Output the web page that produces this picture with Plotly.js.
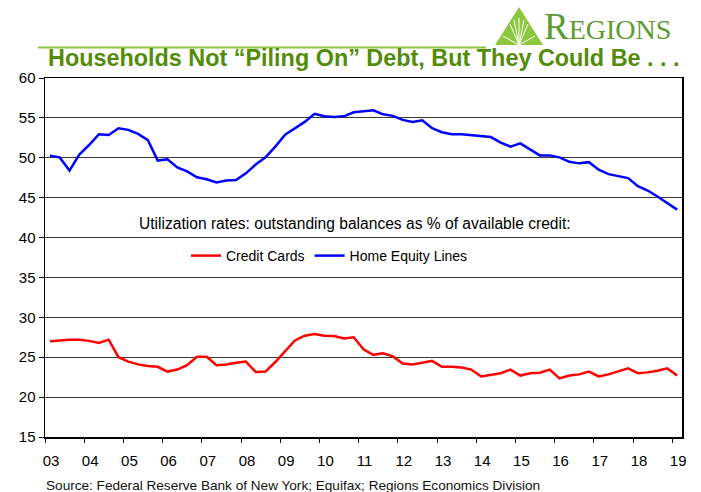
<!DOCTYPE html>
<html><head><meta charset="utf-8">
<script src="https://cdn.plot.ly/plotly-3.0.1.min.js"></script>
<style>html,body{margin:0;padding:0;background:#fff}#chart{width:701px;height:492px}</style>
</head><body><div id="chart"></div>
<script>
// Quarterly data, 2003Q1 .. 2019Q1 (65 quarters)
const startYear = 2003;
const creditCards = [27.0, 27.1, 27.2, 27.2, 27.05, 26.8, 27.2, 25.0, 24.45, 24.1, 23.9, 23.8, 23.2, 23.45, 24.0, 25.05,
  25.05, 24.0, 24.1, 24.3, 24.45, 23.15, 23.2, 24.4, 25.7, 27.1, 27.7, 27.9, 27.7, 27.65, 27.35, 27.5,
  26.0, 25.3, 25.5, 25.1, 24.2, 24.1, 24.3, 24.55, 23.8, 23.8, 23.7, 23.45, 22.6, 22.8, 23.0, 23.45,
  22.7, 23.0, 23.05, 23.45, 22.35, 22.7, 22.85, 23.2, 22.6, 22.85, 23.2, 23.6, 23.0, 23.1, 23.3, 23.6, 22.7];
const homeEquity = [50.25, 50.05, 48.4, 50.4, 51.6, 52.95, 52.85, 53.7, 53.5, 53.0, 52.2, 49.65, 49.8, 48.8, 48.3, 47.55,
  47.3, 46.9, 47.15, 47.2, 48.05, 49.15, 50.05, 51.4, 52.9, 53.7, 54.5, 55.5, 55.2, 55.1, 55.2, 55.7,
  55.8, 55.95, 55.45, 55.25, 54.75, 54.5, 54.7, 53.7, 53.2, 52.95, 52.95, 52.85, 52.7, 52.6, 51.9, 51.4,
  51.8, 51.0, 50.3, 50.3, 50.05, 49.5, 49.3, 49.45, 48.5, 47.95, 47.7, 47.45, 46.45, 45.9, 45.15, 44.3, 43.5];
const yearTicks = [2003,2004,2005,2006,2007,2008,2009,2010,2011,2012,2013,2014,2015,2016,2017,2018,2019];
const yearLabels = ['03','04','05','06','07','08','09','10','11','12','13','14','15','16','17','18','19'];
const seriesNames = ['Credit Cards', 'Home Equity Lines'];

// quarter positions: centre of each quarter's category slot
const xPos = creditCards.map((_, i) => startYear + Math.floor(i / 4) + (i % 4) / 4 + 0.125);

const FONT = 'Liberation Sans, Arial, sans-serif';
// pixel -> paper helpers (plot area: x 45..682, y 78..437)
const L = 45, R = 682, T = 78, B = 437;
const px = x => (x - L) / (R - L);
const py = y => (B - y) / (B - T);

const traces = [
  {x: xPos, y: creditCards, name: seriesNames[0], type: 'scatter', mode: 'lines',
   line: {color: '#ff0000', width: 2.5}},
  {x: xPos, y: homeEquity, name: seriesNames[1], type: 'scatter', mode: 'lines',
   line: {color: '#0000ff', width: 2.5}}
];

const rayEnds = [[510,24],[514,20],[519,18],[524,20],[528,24],[503,36],[535,36]];

const layout = {
  width: 701, height: 492,
  margin: {l: L, r: 701 - R, t: T, b: 492 - B, pad: 0},
  paper_bgcolor: '#fff', plot_bgcolor: '#fff',
  font: {family: FONT, size: 15, color: '#000'},
  showlegend: true,
  legend: {orientation: 'h', x: px(186), xanchor: 'left', y: py(256), yanchor: 'middle',
    font: {family: FONT, size: 14, color: '#000'}, bgcolor: 'rgba(0,0,0,0)', traceorder: 'normal',
    itemwidth: 30},
  xaxis: {range: [2003, 2019 + 0.25], tickmode: 'array', tickvals: yearTicks, ticktext: yearLabels,
    ticks: 'outside', ticklen: 4, tickwidth: 1, tickcolor: '#000', showgrid: false, zeroline: false,
    showline: true, linecolor: '#000', linewidth: 1.5, mirror: true,
    ticklabelshift: 6, ticklabelstandoff: 5,
    tickfont: {family: FONT, size: 15, color: '#000'}},
  yaxis: {range: [15, 60], tickmode: 'array', tickvals: [15,20,25,30,35,40,45,50,55,60],
    ticks: 'outside', ticklen: 5, tickwidth: 1, tickcolor: '#000', showgrid: true, gridcolor: '#3a3a3a', gridwidth: 1,
    zeroline: false, showline: true, linecolor: '#000', linewidth: 1.5, mirror: true,
    tickfont: {family: FONT, size: 15, color: '#000'}},
  shapes: [
    {type: 'line', xref: 'paper', yref: 'paper', x0: px(38), x1: px(486), y0: py(47.5), y1: py(47.5),
     line: {color: '#8dc63f', width: 2}},
    {type: 'path', xref: 'paper', yref: 'paper',
     path: `M ${px(519)} ${py(7)} L ${px(543)} ${py(45)} L ${px(495)} ${py(45)} Z`,
     fillcolor: '#8dc63f', line: {width: 0}},
    ...rayEnds.map(([ex, ey]) => ({type: 'line', xref: 'paper', yref: 'paper',
      x0: px(519), y0: py(45), x1: px(ex), y1: py(ey), line: {color: '#fff', width: 1}}))
  ],
  annotations: [
    {xref: 'paper', yref: 'paper', x: px(363.5), y: py(58), xanchor: 'center', yanchor: 'middle', showarrow: false,
     text: '<b>Households Not “Piling On” Debt, But They Could Be . . .</b>',
     font: {family: FONT, size: 23.4, color: '#548c0a'}},
    {xref: 'paper', yref: 'paper', x: px(542), y: py(27), xanchor: 'left', yanchor: 'middle', showarrow: false,
     text: 'R<span style="font-size:28px">EGIONS</span>',
     font: {family: 'Liberation Serif, Times New Roman, serif', size: 37, color: '#5c9a32'}},
    {xref: 'paper', yref: 'paper', x: px(355), y: py(223), xanchor: 'center', yanchor: 'middle', showarrow: false,
     text: 'Utilization rates: outstanding balances as % of available credit:',
     font: {family: FONT, size: 15.6, color: '#000'}},
    {xref: 'paper', yref: 'paper', x: px(44), y: py(485), xanchor: 'left', yanchor: 'middle', showarrow: false,
     text: 'Source: Federal Reserve Bank of New York; Equifax; Regions Economics Division',
     font: {family: FONT, size: 13.6, color: '#111'}}
  ]
};

Plotly.newPlot('chart', traces, layout, {displayModeBar: false, staticPlot: true});
</script>
</body></html>
